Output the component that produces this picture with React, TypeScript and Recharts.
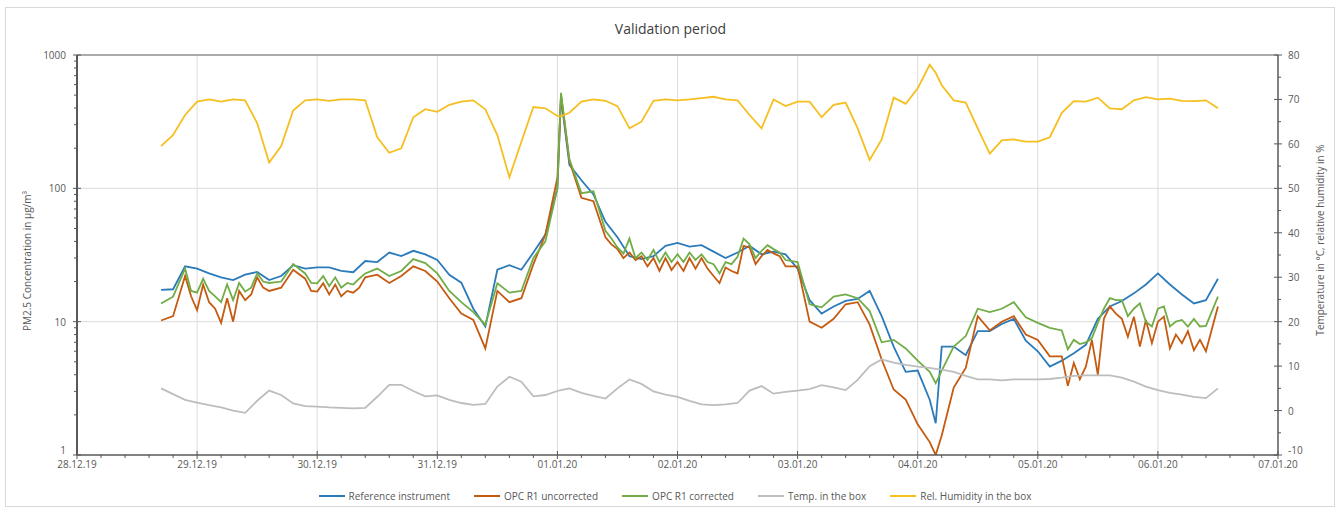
import React from 'react';
import {
  LineChart,
  Line,
  XAxis,
  YAxis,
  CartesianGrid,
  Legend,
  ReferenceLine,
} from 'recharts';

// time in days after 28.12.19 00:00
const hours = [
  0.7, 0.8, 0.9, 1.0, 1.1, 1.2, 1.3, 1.4, 1.5, 1.6, 1.7, 1.8, 1.9, 2.0, 2.1, 2.2, 2.3,
  2.4, 2.5, 2.6, 2.7, 2.8, 2.9, 3.0, 3.1, 3.2, 3.3, 3.4, 3.5, 3.6, 3.7, 3.8, 3.9, 4.0,
  4.03,
  4.1, 4.2, 4.3, 4.4, 4.5, 4.6, 4.7, 4.8, 4.9, 5.0, 5.1, 5.2, 5.3, 5.4, 5.5, 5.6, 5.7,
  5.8, 5.9, 6.0, 6.1, 6.2, 6.3, 6.4, 6.5, 6.6, 6.7, 6.8, 6.9, 7.0, 7.1,
  7.15,
  7.2, 7.3, 7.4, 7.5, 7.6, 7.7, 7.8, 7.9, 8.0, 8.1, 8.2, 8.3, 8.4, 8.5, 8.6, 8.7, 8.8,
  8.9, 9.0, 9.1, 9.2, 9.3, 9.4, 9.5,
];

const refPM = [
  17.3, 17.5, 26, 25, 23, 21.5, 20.5, 22.5, 23.6, 20.5, 22, 26.5, 25, 25.5, 25.5, 24, 23.5,
  28.5, 28, 33, 31, 34, 32, 29, 22.5, 19.6, 12.5, 9.2, 24.5, 26.5, 24.5, 33, 45, 100,
  480,
  150, 115, 90, 56, 43, 31, 29.5, 31, 37, 39, 36.5, 37.5, 33.5, 30, 33, 37, 32,
  33.5, 32, 25, 14.5, 11.5, 13, 14.3, 14.8, 17, 11, 6.5, 4.2, 4.3, 2.6,
  1.73,
  6.5, 6.5, 5.6, 8.5, 8.5, 9.6, 10.5, 7.2, 6, 4.6, 5.1, 5.8, 6.7, 10.5, 13, 14.3, 16.3,
  19, 23, 19, 16, 13.7, 14.5, 21,
];

const tempBox = [
  5.0, 3.7, 2.4, 1.8, 1.2, 0.7, 0.0, -0.5, 2.2, 4.5, 3.5, 1.6, 1.0, 0.9, 0.7, 0.6, 0.5,
  0.6, 3.1, 5.8, 5.8, 4.4, 3.2, 3.4, 2.4, 1.7, 1.3, 1.5, 5.4, 7.6, 6.5, 3.2, 3.5, 4.4,
  4.6,
  5.0, 4.0, 3.3, 2.7, 5.0, 7.0, 6.0, 4.3, 3.6, 3.1, 2.2, 1.4, 1.2, 1.4, 1.7, 4.5, 5.5,
  3.8, 4.2, 4.5, 4.8, 5.7, 5.2, 4.6, 6.9, 10, 11.5, 10.8, 10.3, 9.9, 9.6,
  9.4,
  9.2, 8.7, 7.8, 7.0, 7.0, 6.8, 7.0, 7.0, 7.0, 7.1, 7.4, 7.8, 7.9, 7.9, 7.9, 7.4, 6.5,
  5.4, 4.6, 4.0, 3.6, 3.1, 2.8, 5.0,
];

const rhBox = [
  59.5, 62, 66.5, 69.5, 70, 69.5, 70, 69.8, 64.7, 55.8, 59.5, 67.5, 69.8, 70, 69.7, 70, 70,
  69.8, 61.5, 58, 59, 66, 67.8, 67.2, 68.8, 69.5, 69.8, 67.8, 62, 52.5, 60.5, 68.3, 68, 66.3,
  66.2,
  67, 69.5, 70, 69.7, 68.5, 63.5, 65, 69.7, 70, 69.8, 70, 70.3, 70.6, 70, 69.8, 66.5, 63.5,
  70, 68.5, 69.5, 69.5, 66, 68.8, 69.3, 63.5, 56.4, 61, 70.4, 69, 72.5, 77.8,
  76,
  73.2, 69.8, 69.3, 63.5, 57.8, 60.8, 61, 60.5, 60.5, 61.5, 67, 69.6, 69.5, 70.4, 68, 67.8, 69.8,
  70.5, 70, 70.2, 69.7, 69.6, 69.8, 68,
];

// the OPC sensor is sampled more finely where its signal is noisy
const opcHours = [
  0.7, 0.8, 0.9, 0.95, 1.0, 1.05, 1.1, 1.15, 1.2, 1.25, 1.3, 1.35, 1.4, 1.45, 1.5, 1.55, 1.6,
  1.7, 1.8, 1.9,
  1.95, 2.0, 2.05, 2.1, 2.15, 2.2, 2.25, 2.3, 2.35,
  2.4, 2.5, 2.6, 2.7, 2.8, 2.9, 3.0, 3.1, 3.2, 3.3, 3.4, 3.5, 3.6, 3.7, 3.8, 3.9, 4.0, 4.03,
  4.1, 4.2, 4.3, 4.4,
  4.45, 4.5, 4.55, 4.6, 4.65, 4.7, 4.75, 4.8, 4.85, 4.9, 4.95, 5.0, 5.05, 5.1, 5.15, 5.2,
  5.25, 5.3, 5.35, 5.4, 5.45, 5.5, 5.55, 5.6, 5.65, 5.7, 5.75, 5.8, 5.85, 5.9,
  6.0, 6.1, 6.2, 6.3, 6.4, 6.5, 6.6, 6.7, 6.8, 6.9, 7.0, 7.1, 7.15, 7.2, 7.3, 7.4, 7.5, 7.6,
  7.7, 7.8, 7.9, 8.0, 8.1, 8.2,
  8.25, 8.3, 8.35, 8.4, 8.45, 8.5, 8.55, 8.6, 8.65, 8.7, 8.75, 8.8, 8.85, 8.9, 8.95, 9.0,
  9.05, 9.1, 9.15, 9.2, 9.25, 9.3, 9.35, 9.4, 9.5,
];

const opcRaw = [
  10.2, 11, 22, 15.5, 12.2, 19, 14, 12.5, 9.8, 15, 10, 17, 14.5, 16, 21.5, 18, 17,
  18, 24.5, 21,
  17, 16.8, 19.4, 16, 19, 15.5, 17, 16.5, 18,
  21.5, 22.5, 19.5, 22, 26, 24, 20, 15, 11.5, 10.3, 6.3, 17, 14, 15, 27, 45, 120, 500,
  160, 85, 80, 43,
  38, 35, 30, 33, 29, 31, 26, 30, 24, 30, 24.4, 28, 24, 30, 25, 30,
  25, 22, 19.5, 25.5, 24, 23, 37, 36, 27, 31, 34.5, 32.5, 31, 26,
  26, 10, 9, 10.5, 13.5, 14, 9.5, 5.2, 3.1, 2.6, 1.7, 1.25, 1.0, 1.4, 3.2, 4.5, 11, 8.6,
  10, 11, 8, 7.3, 5.5, 5.5,
  3.3, 4.9, 3.7, 4.6, 7.3, 4, 10.5, 13, 11.5, 10.5, 7.7, 10.9, 6.5, 10.3, 6.9, 10,
  10.9, 6.3, 8, 6.9, 8.5, 6.1, 7.3, 6, 13,
];

const opcCorrected = [
  13.7, 15.4, 25, 17, 16.5, 21, 17, 15.5, 14, 19, 14.5, 19.5, 16.8, 18, 23, 20, 19.5,
  20, 27, 23,
  19.5, 19.4, 22, 18.5, 21.5, 18, 19.5, 19, 21,
  23, 25, 22, 24, 29.5, 27.5, 23, 17, 14, 11.8, 9.5, 19.4, 16.5, 17, 30, 40, 100, 520,
  165, 92, 95, 48,
  42, 36, 32.4, 42, 30, 33, 29, 34.5, 28, 33, 28, 32, 28, 33, 29, 32,
  28, 27, 23, 28, 27, 30.7, 42, 38, 30, 34, 37.5, 35, 33, 29,
  28, 13.5, 12.8, 15.4, 16, 15, 12, 7, 7.3, 6.3, 5.1, 4.2, 3.45, 4.3, 6.5, 7.8, 12.5, 11.8,
  12.5, 14, 10.8, 9.8, 9, 8.6,
  6.2, 7.3, 6.8, 7, 7.5, 9.8, 12.5, 15, 14.5, 14.5, 11, 12.5, 13.7, 10, 9.2, 12.5,
  13, 9.2, 10, 10.3, 9.2, 10.5, 9.2, 9.3, 15.4,
];

const dayLabels = [
  '28.12.19', '29.12.19', '30.12.19', '31.12.19', '01.01.20', '02.01.20',
  '03.01.20', '04.01.20', '05.01.20', '06.01.20', '07.01.20',
];

const seriesNames = [
  'Reference instrument',
  'OPC R1 uncorrected',
  'OPC R1 corrected',
  'Temp. in the box',
  'Rel. Humidity in the box',
];

const leftTicks = [
  1, 2, 3, 4, 5, 6, 7, 8, 9, 10, 20, 30, 40, 50, 60, 70, 80, 90,
  100, 200, 300, 400, 500, 600, 700, 800, 900, 1000,
];
const leftLabels = [1, 10, 100, 1000];

const rightTicks = [-10, -5, 0, 5, 10, 15, 20, 25, 30, 35, 40, 45, 50, 55, 60, 65, 70, 75, 80];

const refData = hours.map((t, i) => ({ t, ref: refPM[i], temp: tempBox[i], rh: rhBox[i] }));
const opcData = opcHours.map((t, i) => ({ t, raw: opcRaw[i], corr: opcCorrected[i] }));

const xTicks = dayLabels.flatMap((_, i) =>
  i < dayLabels.length - 1 ? [i, i + 0.2, i + 0.4, i + 0.6, i + 0.8] : [i]
);

const AXIS = '#595959';
const GRID = '#dcdcdc';
const FONT = '"Open Sans", "DejaVu Sans", sans-serif';

const XTick = (props: any) => {
  const { x, y, payload } = props;
  const v = payload.value as number;
  const major = Math.abs(v - Math.round(v)) < 1e-6;
  return (
    <g>
      <line x1={x} x2={x} y1={major ? y - 4 : y} y2={major ? y + 4 : y + 3} stroke={AXIS} strokeWidth={1} />
      {major && (
        <text x={x} y={y + 13} textAnchor="middle" fontSize={10} fill={AXIS} fontFamily={FONT}>
          {dayLabels[Math.round(v)]}
        </text>
      )}
    </g>
  );
};

const LeftTick = (props: any) => {
  const { x, y, payload } = props;
  const v = payload.value as number;
  const major = leftLabels.includes(v);
  // lowest label nudged up so it clears the first date label
  const ty = v === 1 ? y - 5 : y;
  return (
    <g>
      <line x1={major ? x - 4 : x - 3} x2={major ? x + 4 : x} y1={y} y2={y} stroke={AXIS} strokeWidth={1} />
      {major && (
        <text x={x - 11} y={ty} textAnchor="end" dominantBaseline="central" fontSize={10} fill={AXIS} fontFamily={FONT}>
          {v}
        </text>
      )}
    </g>
  );
};

const RightTick = (props: any) => {
  const { x, y, payload } = props;
  const v = payload.value as number;
  const major = v % 10 === 0;
  const ty = v === -10 ? y - 5 : y;
  return (
    <g>
      <line x1={major ? x - 4 : x} x2={major ? x + 4 : x + 3} y1={y} y2={y} stroke={AXIS} strokeWidth={1} />
      {major && (
        <text x={x + 10} y={ty} textAnchor="start" dominantBaseline="central" fontSize={10} fill={AXIS} fontFamily={FONT}>
          {v}
        </text>
      )}
    </g>
  );
};

const LegendContent = (props: any) => {
  const items = [...(props.payload || [])].sort(
    (a: any, b: any) => seriesNames.indexOf(a.value) - seriesNames.indexOf(b.value)
  );
  return (
    <div
      style={{
        display: 'flex',
        justifyContent: 'center',
        alignItems: 'center',
        gap: 24,
        fontSize: 10,
        color: AXIS,
        fontFamily: FONT,
        height: 22,
        marginLeft: -8,
      }}
    >
      {items.map((p: any) => (
        <span key={p.value} style={{ display: 'flex', alignItems: 'center' }}>
          <span style={{ display: 'inline-block', width: 26, height: 2, background: p.color, marginRight: 4 }} />
          {p.value}
        </span>
      ))}
    </div>
  );
};

const AxisTitle = ({ cx, cy, text }: { cx: number; cy: number; text: string }) => (
  <text
    x={cx}
    y={cy}
    transform={`rotate(-90, ${cx}, ${cy})`}
    textAnchor="middle"
    dominantBaseline="central"
    fontSize={10}
    fill={AXIS}
    fontFamily={FONT}
  >
    {text}
  </text>
);

export default function App() {
  return (
    <div
      style={{
        position: 'absolute',
        left: 0,
        top: 0,
        width: 1341,
        height: 512,
        background: '#fff',
        fontFamily: FONT,
      }}
    >
      <div
        style={{
          position: 'absolute',
          left: 5,
          top: 7,
          width: 1328,
          height: 498,
          border: '1px solid #d9d9d9',
        }}
      />
      <div
        style={{
          position: 'absolute',
          left: 0,
          top: 19,
          width: 1341,
          textAlign: 'center',
          fontSize: 14,
          color: '#404040',
          lineHeight: '19px',
        }}
      >
        Validation period
      </div>
      <LineChart
        width={1341}
        height={512}
        margin={{ top: 55, right: 13, bottom: 5, left: 30 }}
        style={{ position: 'absolute', left: 0, top: 0 }}
      >
        <CartesianGrid
          stroke={GRID}
          yAxisId="left"
          horizontalValues={[10, 100]}
          verticalValues={[1, 2, 3, 4, 5, 6, 7, 8, 9]}
        />
        <XAxis
          dataKey="t"
          type="number"
          domain={[0, 10]}
          allowDataOverflow
          ticks={xTicks}
          interval={0}
          tick={<XTick />}
          tickLine={false}
          tickSize={0}
          tickMargin={0}
          height={30}
          axisLine={{ stroke: AXIS, strokeWidth: 1.5 }}
        />
        <YAxis
          yAxisId="left"
          scale="log"
          type="number"
          domain={[1, 1000]}
          allowDataOverflow
          ticks={leftTicks}
          interval={0}
          tick={<LeftTick />}
          tickLine={false}
          tickSize={0}
          tickMargin={0}
          width={47}
          axisLine={{ stroke: AXIS, strokeWidth: 2 }}
          label={{
            content: ({ viewBox }: any) => (
              <AxisTitle
                cx={viewBox.x - 3}
                cy={viewBox.y + viewBox.height / 2 + 6}
                text="PM2.5 Concentration in µg/m³"
              />
            ),
          }}
        />
        <YAxis
          yAxisId="right"
          orientation="right"
          type="number"
          domain={[-10, 80]}
          allowDataOverflow
          ticks={rightTicks}
          interval={0}
          tick={<RightTick />}
          tickLine={false}
          tickSize={0}
          tickMargin={0}
          width={50}
          axisLine={{ stroke: AXIS, strokeWidth: 1.5 }}
          label={{
            content: ({ viewBox }: any) => (
              <AxisTitle
                cx={viewBox.x + 42}
                cy={viewBox.y + viewBox.height / 2 - 15}
                text="Temperature in °C, relative humidity in %"
              />
            ),
          }}
        />
        <ReferenceLine yAxisId="left" y={1000} stroke={AXIS} strokeWidth={1.2} />
        <Legend verticalAlign="bottom" align="center" height={22} content={<LegendContent />} />
        <Line data={refData} yAxisId="left" dataKey="ref" name={seriesNames[0]} stroke="#2B7BBA" strokeWidth={1.8} dot={false} isAnimationActive={false} />
        <Line data={opcData} yAxisId="left" dataKey="raw" name={seriesNames[1]} stroke="#C55A11" strokeWidth={1.8} dot={false} isAnimationActive={false} />
        <Line data={opcData} yAxisId="left" dataKey="corr" name={seriesNames[2]} stroke="#70AD47" strokeWidth={1.8} dot={false} isAnimationActive={false} />
        <Line data={refData} yAxisId="right" dataKey="temp" name={seriesNames[3]} stroke="#BDBDBD" strokeWidth={1.8} dot={false} isAnimationActive={false} />
        <Line data={refData} yAxisId="right" dataKey="rh" name={seriesNames[4]} stroke="#F5BF1F" strokeWidth={1.8} dot={false} isAnimationActive={false} />
      </LineChart>
    </div>
  );
}
